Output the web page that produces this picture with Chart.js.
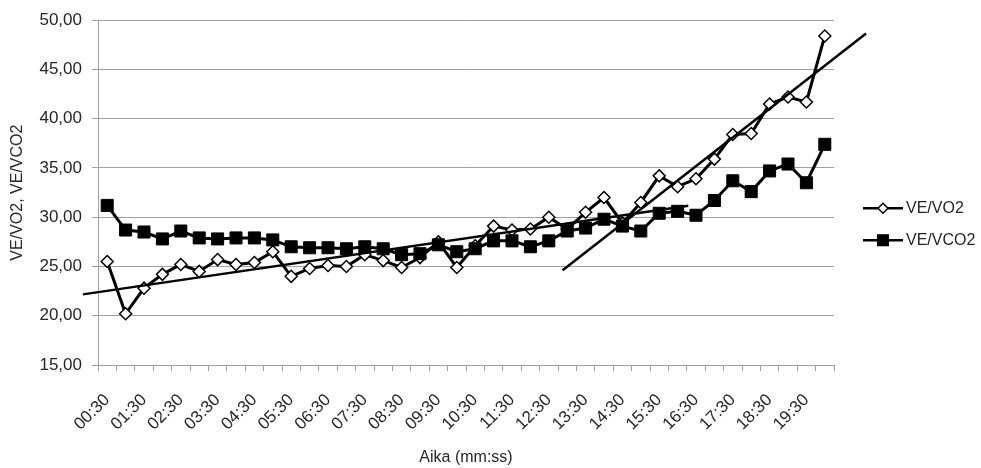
<!DOCTYPE html>
<html>
<head>
<meta charset="utf-8">
<script src="https://cdn.jsdelivr.net/npm/chart.js@4/dist/chart.umd.min.js"></script>
<style>
  html, body { margin: 0; padding: 0; background: #fff; }
  #wrap { width: 981px; height: 468px; }
</style>
</head>
<body>
<div id="wrap"><canvas id="chart" width="981" height="468"></canvas></div>
<script>
// time labels, one every 30 s
const times = [
  '00:30', '01:00', '01:30', '02:00', '02:30', '03:00', '03:30', '04:00', '04:30', '05:00',
  '05:30', '06:00', '06:30', '07:00', '07:30', '08:00', '08:30', '09:00', '09:30', '10:00',
  '10:30', '11:00', '11:30', '12:00', '12:30', '13:00', '13:30', '14:00', '14:30', '15:00',
  '15:30', '16:00', '16:30', '17:00', '17:30', '18:00', '18:30', '19:00', '19:30', '20:00'
];

const veVo2 = [
  25.5, 20.2, 22.8, 24.2, 25.2, 24.5, 25.7, 25.2, 25.4, 26.5,
  24.0, 24.8, 25.1, 25.0, 26.2, 25.6, 24.9, 25.9, 27.5, 24.9,
  27.1, 29.1, 28.7, 28.8, 30.0, 28.8, 30.5, 32.0, 29.4, 31.5,
  34.2, 33.1, 33.9, 35.9, 38.4, 38.5, 41.5, 42.2, 41.7, 48.4
];

const veVco2 = [
  31.2, 28.7, 28.5, 27.8, 28.6, 27.9, 27.8, 27.9, 27.9, 27.7,
  27.0, 26.9, 26.9, 26.8, 27.0, 26.8, 26.2, 26.3, 27.2, 26.5,
  26.8, 27.6, 27.6, 27.0, 27.6, 28.6, 28.9, 29.8, 29.1, 28.6,
  30.4, 30.6, 30.2, 31.7, 33.7, 32.6, 34.7, 35.4, 33.5, 37.4
];

// linear trend lines (ends in category-index units)
const trend1X = [-1.32, 31.58];
const trend1Y = [22.17, 31.17];
const trend2X = [24.75, 41.24];
const trend2Y = [24.62, 48.65];

const yTicks = [15, 20, 25, 30, 35, 40, 45, 50];

const FONT = 'Liberation Sans, Arial, sans-serif';
const TEXT = '#262626';
const GRID = '#a0a0a0';

const toPts = (xs, ys) => xs.map((x, i) => ({ x: x, y: ys[i] }));

// simple legend drawn to the right, line + marker like the original
const sideLegend = {
  id: 'sideLegend',
  afterDraw(chart) {
    const ctx = chart.ctx;
    const area = chart.chartArea;
    const x0 = area.right + 29;
    const items = [
      { text: 'VE/VO2', style: 'rectRot', radius: 5, fill: '#fff' },
      { text: 'VE/VCO2', style: 'rect', radius: 7.5, fill: '#000' }
    ];
    items.forEach((it, i) => {
      const y = area.top + 188 + i * 32;
      ctx.save();
      ctx.strokeStyle = '#000';
      ctx.lineWidth = 2.5;
      ctx.beginPath();
      ctx.moveTo(x0, y);
      ctx.lineTo(x0 + 40, y);
      ctx.stroke();
      ctx.fillStyle = it.fill;
      ctx.lineWidth = 1.5;
      Chart.helpers.drawPoint(ctx, { pointStyle: it.style, radius: it.radius, borderWidth: 1.5 }, x0 + 20, y);
      ctx.fillStyle = TEXT;
      ctx.font = '16px ' + FONT;
      ctx.textBaseline = 'middle';
      ctx.textAlign = 'left';
      ctx.fillText(it.text, x0 + 43, y);
      ctx.restore();
    });
  }
};

new Chart(document.getElementById('chart'), {
  type: 'line',
  data: {
    labels: times,
    datasets: [
      {
        label: 'trend1',
        data: toPts(trend1X, trend1Y),
        xAxisID: 'xt',
        borderColor: '#000',
        borderWidth: 2.5,
        pointRadius: 0,
        clip: false,
        order: 0
      },
      {
        label: 'trend2',
        data: toPts(trend2X, trend2Y),
        xAxisID: 'xt',
        borderColor: '#000',
        borderWidth: 2.5,
        pointRadius: 0,
        clip: false,
        order: 0
      },
      {
        label: 'VE/VCO2',
        data: veVco2,
        xAxisID: 'x',
        borderColor: '#000',
        borderWidth: 3,
        pointStyle: 'rect',
        pointRadius: 8.5,
        pointBackgroundColor: '#000',
        pointBorderColor: '#000',
        pointBorderWidth: 1,
        order: 1
      },
      {
        label: 'VE/VO2',
        data: veVo2,
        xAxisID: 'x',
        borderColor: '#000',
        borderWidth: 3,
        pointStyle: 'rectRot',
        pointRadius: 6,
        pointBackgroundColor: '#fff',
        pointBorderColor: '#000',
        pointBorderWidth: 1.5,
        order: 2
      }
    ]
  },
  options: {
    responsive: false,
    animation: false,
    layout: { padding: { top: 20, right: 147, left: 0, bottom: 0 } },
    plugins: {
      legend: { display: false },
      tooltip: { enabled: false }
    },
    scales: {
      x: {
        type: 'category',
        offset: true,
        grid: { offset: true, drawOnChartArea: false, drawTicks: true, tickLength: 6, color: GRID },
        border: { color: GRID, width: 1 },
        ticks: {
          autoSkip: false,
          minRotation: 45,
          maxRotation: 45,
          padding: 19,
          color: TEXT,
          font: { family: FONT, size: 17 },
          callback: (v, i) => (i % 2 === 0 ? times[i] : '')
        },
        title: {
          display: true,
          text: 'Aika (mm:ss)',
          color: TEXT,
          font: { family: FONT, size: 16 },
          padding: { top: 0, bottom: 1 }
        },
        afterFit: (s) => { s.height = 103; }
      },
      xt: {
        type: 'linear',
        display: false,
        min: -0.5,
        max: times.length - 0.5
      },
      y: {
        min: yTicks[0],
        max: yTicks[yTicks.length - 1],
        afterBuildTicks: (s) => { s.ticks = yTicks.map(v => ({ value: v })); },
        grid: { color: GRID, tickLength: 6 },
        border: { color: GRID, width: 1 },
        ticks: {
          padding: 10,
          color: TEXT,
          font: { family: FONT, size: 17 },
          callback: (v) => v.toFixed(2).replace('.', ',')
        },
        title: {
          display: true,
          text: 'VE/VO2, VE/VCO2',
          color: TEXT,
          font: { family: FONT, size: 16 },
          padding: { top: 8, bottom: 0 }
        },
        afterFit: (s) => { s.width = 98; }
      }
    }
  },
  plugins: [sideLegend]
});
</script>
</body>
</html>
